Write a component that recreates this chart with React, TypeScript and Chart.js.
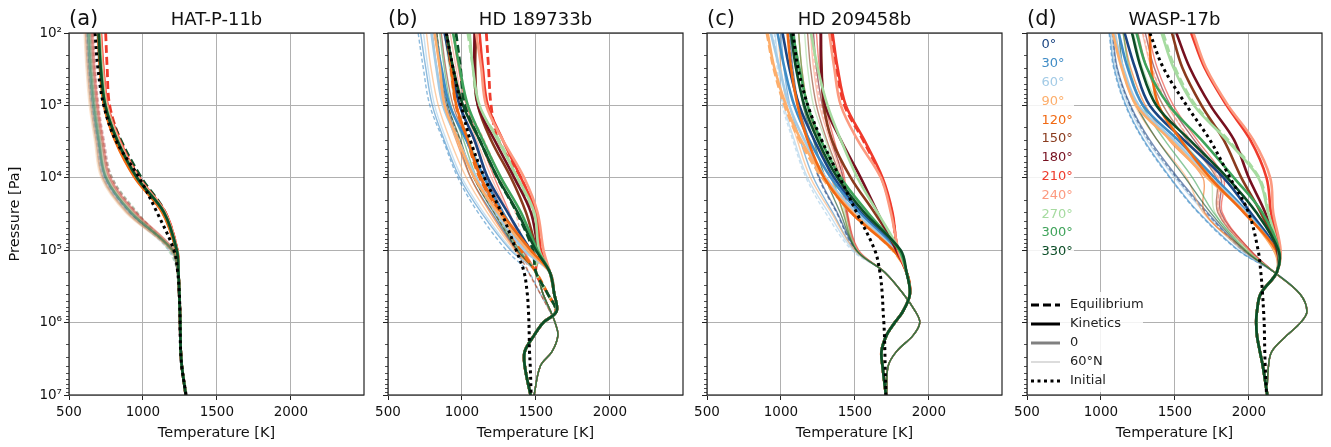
import React, { useEffect, useRef } from 'react';
import { Chart, registerables } from 'chart.js';

Chart.register(...registerables);
Chart.defaults.font.family = "'DejaVu Sans', sans-serif";

// ---------- shared axes ----------
const P_UP = [1e2, 3e2, 1e3, 3e3, 1e4, 3e4, 1e5];
const P_DEEP = [2e5, 4e5, 7e5, 1e6, 1.5e6, 2.5e6, 4e6, 1e7];
const PRESSURE = [...P_UP, ...P_DEEP];
const X_TICKS = [500, 1000, 1500, 2000];
const Y_TICKS = [1e2, 1e3, 1e4, 1e5, 1e6, 1e7];
const Y_TICK_LABELS = ['10²', '10³', '10⁴', '10⁵', '10⁶', '10⁷'];
const MINOR_MULT = [2, 3, 4, 5, 6, 7, 8, 9];

const LONGITUDES = ['0°', '30°', '60°', '90°', '120°', '150°', '180°', '210°', '240°', '270°', '300°', '330°'];
const LON_COLORS = ['#1b4582', '#3f8cc6', '#a3cbe6', '#fdae6b', '#f16913', '#8a3b1e', '#76101f', '#ef3b2c', '#fc9a80', '#a6dba0', '#3fa35a', '#0c4d27'];

// ---------- (a) HAT-P-11b ----------
const A_INITIAL = [676, 695, 735, 815, 975, 1095, 1210, 1235, 1246, 1250, 1251, 1252, 1255, 1262, 1292];
const A_EQ_KIN = [
  [698, 712, 742, 820, 955, 1138, 1228],
  [696, 710, 740, 818, 952, 1136, 1227],
  [694, 708, 738, 815, 950, 1134, 1226],
  [695, 709, 738, 812, 948, 1132, 1226],
  [697, 710, 737, 810, 945, 1130, 1225],
  [705, 720, 750, 830, 965, 1145, 1230],
  [710, 725, 755, 835, 970, 1148, 1231],
  [716, 732, 762, 842, 975, 1152, 1233],
  [712, 728, 758, 838, 972, 1150, 1232],
  [705, 720, 750, 828, 962, 1143, 1230],
  [702, 716, 746, 826, 960, 1142, 1229],
  [700, 714, 745, 825, 960, 1142, 1229],
];
const A_EQ_TAIL = [1240, 1246, 1250, 1252, 1253, 1256, 1263, 1290];
const A_N60_KIN = [
  [640, 650, 672, 705, 750, 920, 1200],
  [620, 632, 655, 690, 735, 900, 1195],
  [610, 622, 645, 680, 725, 890, 1190],
  [605, 618, 640, 675, 720, 885, 1190],
  [615, 628, 650, 685, 730, 895, 1195],
  [645, 658, 680, 715, 765, 935, 1205],
  [655, 668, 690, 725, 775, 945, 1208],
  [660, 673, 695, 730, 780, 950, 1210],
  [652, 665, 688, 722, 772, 940, 1207],
  [640, 652, 675, 710, 760, 930, 1203],
  [632, 645, 668, 702, 752, 920, 1200],
  [628, 640, 663, 698, 748, 915, 1200],
];
const A_N60_TAIL = [1236, 1244, 1249, 1251, 1252, 1255, 1262, 1288];
const A_EQUIL = [
  { lon: 7, lat: 'eq', up: [748, 758, 775, 848, 978, 1150, 1232] },
  { lon: 11, lat: 'eq', up: [705, 722, 758, 850, 990, 1150, 1222] },
  { lon: 10, lat: 'n60', up: [645, 657, 680, 720, 790, 960, 1175] },
  { lon: 6, lat: 'n60', up: [662, 675, 698, 735, 790, 955, 1190] },
  { lon: 1, lat: 'n60', up: [618, 630, 652, 688, 735, 905, 1180] },
];

// ---------- (b) HD 189733b ----------
const B_INITIAL = [894, 939, 995, 1056, 1153, 1266, 1367, 1420, 1442, 1450, 1453, 1455, 1457, 1462, 1468];
const B_EQ_KIN = [
  [883, 928, 984, 1085, 1175, 1309, 1466],
  [816, 861, 917, 1029, 1152, 1276, 1444],
  [794, 827, 872, 973, 1096, 1231, 1421],
  [816, 850, 883, 973, 1085, 1242, 1444],
  [895, 928, 962, 1040, 1130, 1265, 1466],
  [1096, 1090, 1108, 1197, 1332, 1433, 1511],
  [1085, 1085, 1108, 1220, 1354, 1466, 1522],
  [1119, 1141, 1175, 1276, 1399, 1500, 1534],
  [1096, 1130, 1164, 1276, 1421, 1511, 1552],
  [1052, 1074, 1119, 1242, 1377, 1489, 1522],
  [940, 984, 1040, 1141, 1265, 1399, 1511],
  [895, 940, 1007, 1119, 1242, 1377, 1500],
];
const B_EQ_TAIL = [1594, 1624, 1640, 1550, 1488, 1425, 1425, 1464];
const B_N60_KIN = [
  [820, 850, 895, 975, 1060, 1200, 1370],
  [720, 755, 800, 880, 985, 1130, 1330],
  [740, 770, 815, 895, 1000, 1145, 1340],
  [760, 790, 840, 920, 1030, 1170, 1355],
  [800, 830, 880, 960, 1060, 1190, 1365],
  [860, 890, 940, 1030, 1120, 1240, 1390],
  [900, 935, 990, 1080, 1170, 1280, 1410],
  [940, 975, 1030, 1120, 1220, 1320, 1420],
  [920, 960, 1010, 1100, 1200, 1310, 1420],
  [880, 915, 960, 1050, 1150, 1270, 1400],
  [850, 880, 925, 1010, 1100, 1230, 1385],
  [830, 860, 905, 990, 1080, 1215, 1375],
];
const B_N60_TAIL = [1500, 1548, 1600, 1630, 1649, 1610, 1530, 1488];
const B_EQUIL = [
  { lon: 7, lat: 'eq', up: [1165, 1180, 1197, 1245, 1399, 1490, 1530] },
  { lon: 4, lat: 'eq', up: [890, 925, 960, 1035, 1120, 1250, 1400] },
  { lon: 9, lat: 'eq', up: [1040, 1075, 1110, 1250, 1370, 1470, 1520] },
  { lon: 11, lat: 'eq', up: [960, 990, 1020, 1120, 1240, 1370, 1480] },
  { lon: 1, lat: 'n60', up: [704, 738, 783, 872, 973, 1108, 1300] },
  { lon: 8, lat: 'n60', up: [950, 990, 1040, 1150, 1260, 1360, 1420] },
  { lon: 5, lat: 'n60', up: [830, 860, 905, 985, 1080, 1220, 1370] },
];
const B_EQL_EQ_TAIL = [1500, 1580, 1635, 1550, 1488, 1425, 1425, 1464];
const B_EQL_N60_TAIL = [1450, 1530, 1595, 1630, 1649, 1610, 1530, 1488];

// ---------- (c) HD 209458b ----------
const C_INITIAL = [1081, 1115, 1182, 1275, 1399, 1511, 1635, 1669, 1685, 1691, 1696, 1700, 1703, 1705, 1710];
const C_EQ_KIN = [
  [1011, 1056, 1124, 1225, 1360, 1540, 1790],
  [977, 1023, 1090, 1191, 1338, 1529, 1780],
  [932, 989, 1056, 1158, 1304, 1507, 1770],
  [910, 955, 1034, 1135, 1293, 1484, 1760],
  [1045, 1068, 1113, 1180, 1293, 1473, 1760],
  [1270, 1275, 1290, 1345, 1473, 1631, 1790],
  [1270, 1272, 1300, 1405, 1540, 1653, 1780],
  [1349, 1383, 1439, 1563, 1687, 1754, 1790],
  [1327, 1360, 1405, 1518, 1676, 1743, 1795],
  [1203, 1248, 1315, 1405, 1518, 1653, 1800],
  [1079, 1124, 1180, 1270, 1405, 1586, 1800],
  [1068, 1101, 1158, 1248, 1383, 1563, 1810],
];
const C_EQ_TAIL = [1849, 1872, 1825, 1770, 1714, 1680, 1687, 1710];
const C_N60_KIN = [
  [1060, 1080, 1120, 1190, 1260, 1380, 1510],
  [1000, 1020, 1060, 1130, 1220, 1350, 1500],
  [960, 985, 1020, 1090, 1180, 1320, 1490],
  [980, 1000, 1040, 1110, 1200, 1340, 1500],
  [1120, 1140, 1180, 1250, 1340, 1420, 1510],
  [1180, 1200, 1240, 1310, 1400, 1440, 1515],
  [1220, 1240, 1280, 1340, 1420, 1445, 1520],
  [1240, 1260, 1300, 1360, 1430, 1450, 1525],
  [1200, 1220, 1260, 1330, 1410, 1440, 1520],
  [1160, 1180, 1220, 1300, 1390, 1430, 1515],
  [1120, 1140, 1180, 1260, 1350, 1420, 1510],
  [1090, 1110, 1150, 1220, 1300, 1400, 1510],
];
const C_N60_TAIL = [1700, 1827, 1909, 1939, 1894, 1782, 1725, 1714];
const C_EQUIL = [
  { lon: 7, lat: 'eq', up: [1340, 1375, 1430, 1555, 1680, 1750, 1790] },
  { lon: 3, lat: 'eq', up: [905, 950, 1025, 1125, 1280, 1475, 1755] },
  { lon: 2, lat: 'n60', up: [955, 975, 1010, 1080, 1170, 1300, 1480] },
  { lon: 0, lat: 'n60', up: [1050, 1075, 1115, 1185, 1255, 1375, 1505] },
  { lon: 8, lat: 'n60', up: [1210, 1230, 1270, 1340, 1420, 1445, 1520] },
];

// ---------- (d) WASP-17b ----------
const D_INITIAL = [1331, 1421, 1579, 1737, 1873, 1998, 2063, 2081, 2093, 2100, 2104, 2106, 2108, 2111, 2120];
const D_EQ_KIN = [
  [1160, 1230, 1330, 1560, 1830, 2010, 2190],
  [1120, 1180, 1285, 1520, 1770, 1990, 2180],
  [1090, 1150, 1255, 1490, 1745, 1980, 2175],
  [1080, 1140, 1240, 1470, 1720, 1970, 2170],
  [1330, 1340, 1390, 1540, 1740, 1965, 2185],
  [1480, 1550, 1680, 1830, 1950, 2080, 2190],
  [1510, 1600, 1740, 1900, 2000, 2110, 2195],
  [1610, 1700, 1850, 2010, 2120, 2150, 2205],
  [1625, 1710, 1860, 2030, 2145, 2165, 2215],
  [1410, 1490, 1630, 1850, 2065, 2130, 2200],
  [1240, 1310, 1460, 1680, 1900, 2090, 2205],
  [1210, 1270, 1375, 1600, 1855, 2050, 2200],
];
const D_EQ_TAIL = [2190, 2080, 2055, 2050, 2055, 2075, 2095, 2125];
const D_N60_KIN = [
  [1080, 1110, 1200, 1330, 1520, 1720, 1960],
  [1060, 1090, 1170, 1290, 1470, 1660, 1930],
  [1070, 1100, 1185, 1310, 1500, 1700, 1950],
  [1100, 1140, 1230, 1380, 1580, 1690, 1960],
  [1150, 1200, 1300, 1460, 1690, 1700, 1980],
  [1250, 1310, 1420, 1580, 1780, 1790, 2000],
  [1300, 1360, 1470, 1630, 1810, 1810, 2010],
  [1320, 1380, 1490, 1650, 1830, 1820, 2010],
  [1280, 1340, 1450, 1600, 1790, 1800, 2000],
  [1220, 1280, 1390, 1550, 1740, 1770, 1990],
  [1150, 1190, 1280, 1430, 1620, 1760, 1980],
  [1120, 1150, 1240, 1380, 1570, 1740, 1970],
];
const D_N60_TAIL = [2170, 2345, 2393, 2350, 2258, 2156, 2133, 2122];
const D_EQUIL = [
  { lon: 9, lat: 'eq', up: [1420, 1500, 1640, 1860, 2070, 2135, 2200] },
  { lon: 0, lat: 'n60', up: [1075, 1105, 1195, 1320, 1510, 1710, 1955] },
  { lon: 1, lat: 'n60', up: [1055, 1085, 1165, 1285, 1465, 1655, 1925] },
  { lon: 8, lat: 'n60', up: [1285, 1345, 1455, 1605, 1795, 1800, 2000] },
];

// ---------- panel specs (layout/style only) ----------
type Equil = { lon: number; lat: string; up: number[] };
type PanelSpec = {
  tag: string; name: string; plotLeft: number; showY: boolean; legend: boolean;
  initial: number[]; eqKin: number[][]; eqTail: number[]; n60Kin: number[][]; n60Tail: number[];
  equil: Equil[]; eqlEqTail: number[]; eqlN60Tail: number[]; thinWidth: number; thinAlpha: number;
};

const PANELS: PanelSpec[] = [
  { tag: '(a)', name: 'HAT-P-11b', plotLeft: 69, showY: true, legend: false, initial: A_INITIAL, eqKin: A_EQ_KIN, eqTail: A_EQ_TAIL, n60Kin: A_N60_KIN, n60Tail: A_N60_TAIL, equil: A_EQUIL, eqlEqTail: A_EQ_TAIL, eqlN60Tail: A_N60_TAIL, thinWidth: 2.4, thinAlpha: 0.3 },
  { tag: '(b)', name: 'HD 189733b', plotLeft: 388, showY: false, legend: false, initial: B_INITIAL, eqKin: B_EQ_KIN, eqTail: B_EQ_TAIL, n60Kin: B_N60_KIN, n60Tail: B_N60_TAIL, equil: B_EQUIL, eqlEqTail: B_EQL_EQ_TAIL, eqlN60Tail: B_EQL_N60_TAIL, thinWidth: 1.4, thinAlpha: 0.6 },
  { tag: '(c)', name: 'HD 209458b', plotLeft: 707, showY: false, legend: false, initial: C_INITIAL, eqKin: C_EQ_KIN, eqTail: C_EQ_TAIL, n60Kin: C_N60_KIN, n60Tail: C_N60_TAIL, equil: C_EQUIL, eqlEqTail: C_EQ_TAIL, eqlN60Tail: C_N60_TAIL, thinWidth: 1.4, thinAlpha: 0.6 },
  { tag: '(d)', name: 'WASP-17b', plotLeft: 1027, showY: false, legend: true, initial: D_INITIAL, eqKin: D_EQ_KIN, eqTail: D_EQ_TAIL, n60Kin: D_N60_KIN, n60Tail: D_N60_TAIL, equil: D_EQUIL, eqlEqTail: D_EQ_TAIL, eqlN60Tail: D_N60_TAIL, thinWidth: 1.4, thinAlpha: 0.6 },
];

const AXIS_W = 69;
const PLOT_W = 295;
const CANVAS_W = 375;
const CANVAS_H = 447;

function rgba(hex: string, a: number) {
  const n = parseInt(hex.slice(1), 16);
  return `rgba(${(n >> 16) & 255},${(n >> 8) & 255},${n & 255},${a})`;
}

function lineDs(temps: number[], color: string, width: number, dash: number[]) {
  return {
    data: temps.map((t, i) => ({ x: t, y: PRESSURE[i] })),
    borderColor: color,
    borderWidth: width,
    borderDash: dash,
    borderCapStyle: 'butt',
    borderJoinStyle: 'round',
    pointRadius: 0,
    tension: 0.35,
    fill: false,
  };
}

function buildDatasets(p: PanelSpec) {
  const list: any[] = [];
  // bottom -> top
  p.equil.filter((e) => e.lat === 'n60').forEach((e) =>
    list.push(lineDs([...e.up, ...p.eqlN60Tail], rgba(LON_COLORS[e.lon], p.thinAlpha), p.thinWidth, [4, 2.5])));
  p.n60Kin.forEach((up, i) => list.push(lineDs([...up, ...p.n60Tail], rgba(LON_COLORS[i], p.thinAlpha), p.thinWidth, [])));
  p.equil.filter((e) => e.lat === 'eq').forEach((e) =>
    list.push(lineDs([...e.up, ...p.eqlEqTail], LON_COLORS[e.lon], 2.8, [8, 4])));
  p.eqKin.forEach((up, i) => list.push(lineDs([...up, ...p.eqTail], LON_COLORS[i], 2.6, [])));
  list.push(lineDs(p.initial, '#000000', 3, [3, 3.5]));
  return list.reverse(); // first dataset is drawn on top
}

function makeDecor(p: PanelSpec) {
  return {
    id: 'decor',
    beforeDatasetsDraw(chart: any) {
      if (!p.legend) return;
      const { ctx, chartArea: a } = chart;
      ctx.save();
      ctx.fillStyle = 'rgba(255,255,255,0.85)';
      ctx.fillRect(a.left + 1, a.top + 1, 46, 229);
      ctx.fillRect(a.left + 1, a.top + 259, 115, 100);
      ctx.restore();
    },
    afterDraw(chart: any) {
      const { ctx, chartArea: a, scales } = chart;
      ctx.save();
      // minor log ticks
      ctx.strokeStyle = '#222';
      ctx.lineWidth = 0.8;
      for (let e = 2; e < 7; e++) {
        for (const m of MINOR_MULT) {
          const y = Math.round(scales.y.getPixelForValue(m * Math.pow(10, e))) + 0.5;
          ctx.beginPath();
          ctx.moveTo(a.left - 3, y);
          ctx.lineTo(a.left, y);
          ctx.stroke();
        }
      }
      // frame
      ctx.strokeStyle = '#222';
      ctx.lineWidth = 1.2;
      ctx.strokeRect(a.left, a.top, a.right - a.left, a.bottom - a.top);
      // titles
      ctx.fillStyle = '#111';
      ctx.textBaseline = 'alphabetic';
      ctx.textAlign = 'left';
      ctx.font = "21px 'DejaVu Sans'";
      ctx.fillText(p.tag, a.left, 25);
      ctx.textAlign = 'center';
      ctx.font = "18px 'DejaVu Sans'";
      ctx.fillText(p.name, (a.left + a.right) / 2, 24.5);
      // axis titles
      ctx.font = "14.5px 'DejaVu Sans'";
      ctx.textBaseline = 'middle';
      ctx.fillText('Temperature [K]', (a.left + a.right) / 2, 433);
      if (p.showY) {
        ctx.save();
        ctx.translate(15, (a.top + a.bottom) / 2);
        ctx.rotate(-Math.PI / 2);
        ctx.fillText('Pressure [Pa]', 0, 0);
        ctx.restore();
      }
      if (p.legend) {
        ctx.textAlign = 'left';
        ctx.textBaseline = 'middle';
        ctx.font = "13px 'DejaVu Sans'";
        LONGITUDES.forEach((lab, i) => {
          ctx.fillStyle = LON_COLORS[i];
          ctx.fillText(lab, a.left + 14.5, a.top + 12 + i * 18.8);
        });
        const items = [
          { label: 'Equilibrium', color: '#000', w: 3, dash: [8, 4] },
          { label: 'Kinetics', color: '#000', w: 3, dash: [] },
          { label: '0', color: '#808080', w: 3, dash: [] },
          { label: '60°N', color: '#d0d0d0', w: 1.5, dash: [] },
          { label: 'Initial', color: '#000', w: 3, dash: [3, 3.5] },
        ];
        items.forEach((it, i) => {
          const y = a.top + 272 + i * 19;
          ctx.strokeStyle = it.color;
          ctx.lineWidth = it.w;
          ctx.setLineDash(it.dash);
          ctx.lineCap = 'butt';
          ctx.beginPath();
          ctx.moveTo(a.left + 4, y);
          ctx.lineTo(a.left + 33, y);
          ctx.stroke();
          ctx.setLineDash([]);
          ctx.fillStyle = '#222';
          ctx.fillText(it.label, a.left + 43, y);
        });
      }
      ctx.restore();
    },
  };
}

function Panel({ p }: { p: PanelSpec }) {
  const ref = useRef<HTMLCanvasElement>(null);
  useEffect(() => {
    const canvas = ref.current!;
    const chart = new Chart(canvas, {
      type: 'line',
      data: { datasets: buildDatasets(p) },
      options: {
        animation: false,
        responsive: false,
        devicePixelRatio: 1,
        layout: { padding: { left: 0, right: CANVAS_W - AXIS_W - PLOT_W, top: 33, bottom: 0 } },
        plugins: { legend: { display: false }, tooltip: { enabled: false }, title: { display: false } },
        scales: {
          x: {
            type: 'linear',
            min: 500,
            max: 2495,
            afterBuildTicks: (s: any) => { s.ticks = X_TICKS.map((v) => ({ value: v })); },
            afterFit: (s: any) => { s.height = 52; },
            grid: { color: '#b0b0b0', lineWidth: 1, tickColor: '#222', tickLength: 5, tickWidth: 1 },
            border: { display: false },
            ticks: { color: '#111', font: { size: 13.5 }, padding: 4, maxRotation: 0, autoSkip: false, callback: (v: any) => String(v) },
          },
          y: {
            type: 'logarithmic',
            reverse: true,
            min: 1e2,
            max: 1e7,
            afterBuildTicks: (s: any) => { s.ticks = Y_TICKS.map((v) => ({ value: v })); },
            afterFit: (s: any) => { s.width = AXIS_W; },
            grid: { color: '#b0b0b0', lineWidth: 1, tickColor: '#222', tickLength: 5, tickWidth: 1 },
            border: { display: false },
            ticks: {
              color: '#111', font: { size: 13.5 }, padding: 2, autoSkip: false,
              callback: (v: any) => (p.showY ? Y_TICK_LABELS[Y_TICKS.indexOf(Number(v))] ?? '' : ''),
            },
          },
        },
      } as any,
      plugins: [makeDecor(p)],
    } as any);
    return () => chart.destroy();
  }, [p]);
  return (
    <canvas
      ref={ref}
      width={CANVAS_W}
      height={CANVAS_H}
      style={{ position: 'absolute', left: p.plotLeft - AXIS_W, top: 0, width: CANVAS_W, height: CANVAS_H }}
    />
  );
}

export default function App() {
  return (
    <div style={{ position: 'fixed', left: 0, top: 0, width: 1331, height: 447, background: '#ffffff', overflow: 'hidden' }}>
      {PANELS.map((p) => (
        <Panel key={p.tag} p={p} />
      ))}
    </div>
  );
}
